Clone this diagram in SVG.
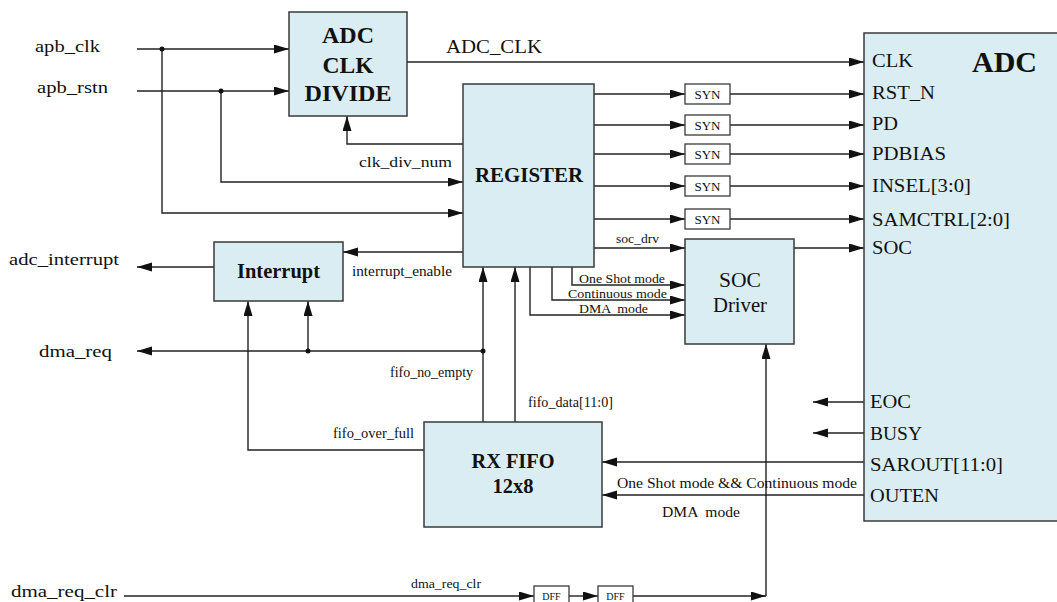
<svg xmlns="http://www.w3.org/2000/svg" width="1057" height="602" viewBox="0 0 1057 602">
<style>
text{font-family:"Liberation Serif","Times New Roman",serif;fill:#111}
.box{fill:#daedf3;stroke:#3a3a3a;stroke-width:1.5}
.sbox{fill:#fff;stroke:#3a3a3a;stroke-width:1.3}
.w{fill:none;stroke:#222;stroke-width:1.4}
.b{font-weight:bold}
.L{font-size:16px}
.P{font-size:18px}
.s{font-size:14px}
.t{font-size:12px}
</style>
<defs>
<marker id="a" markerUnits="userSpaceOnUse" markerWidth="16" markerHeight="10" refX="15" refY="4.5" orient="auto">
<path d="M0,0 L15,4.5 L0,9 z" fill="#111"/>
</marker>
</defs>
<rect width="1057" height="602" fill="#fff"/>

<g id="connectors">
<path class="w" d="M137,49 H289" marker-end="url(#a)"/>
<path class="w" d="M162,49 V213 H463" marker-end="url(#a)"/>
<path class="w" d="M137,91 H289" marker-end="url(#a)"/>
<path class="w" d="M221,91 V182 H463" marker-end="url(#a)"/>
<path class="w" d="M463,144 H347 V116" marker-end="url(#a)"/>
<path class="w" d="M407,62 H864" marker-end="url(#a)"/>
<path class="w" d="M594,94 H685" marker-end="url(#a)"/>
<path class="w" d="M730,94 H864" marker-end="url(#a)"/>
<path class="w" d="M594,125 H685" marker-end="url(#a)"/>
<path class="w" d="M730,125 H864" marker-end="url(#a)"/>
<path class="w" d="M594,154 H685" marker-end="url(#a)"/>
<path class="w" d="M730,154 H864" marker-end="url(#a)"/>
<path class="w" d="M594,186 H685" marker-end="url(#a)"/>
<path class="w" d="M730,186 H864" marker-end="url(#a)"/>
<path class="w" d="M594,219 H685" marker-end="url(#a)"/>
<path class="w" d="M730,219 H864" marker-end="url(#a)"/>
<path class="w" d="M594,248 H685" marker-end="url(#a)"/>
<path class="w" d="M794,248 H864" marker-end="url(#a)"/>
<path class="w" d="M572,267 V285 H685" marker-end="url(#a)"/>
<path class="w" d="M552,267 V300 H685" marker-end="url(#a)"/>
<path class="w" d="M530,267 V315 H685" marker-end="url(#a)"/>
<path class="w" d="M463,252 H343" marker-end="url(#a)"/>
<path class="w" d="M214,267 H137" marker-end="url(#a)"/>
<path class="w" d="M483,351 H137" marker-end="url(#a)"/>
<path class="w" d="M308,351 V301" marker-end="url(#a)"/>
<path class="w" d="M483,422 V267" marker-end="url(#a)"/>
<path class="w" d="M515,422 V267" marker-end="url(#a)"/>
<path class="w" d="M424,450 H248 V301" marker-end="url(#a)"/>
<path class="w" d="M864,462 H602" marker-end="url(#a)"/>
<path class="w" d="M864,495 H602" marker-end="url(#a)"/>
<path class="w" d="M864,402 H813" marker-end="url(#a)"/>
<path class="w" d="M864,433 H813" marker-end="url(#a)"/>
<path class="w" d="M124,596 H534" marker-end="url(#a)"/>
<path class="w" d="M569,596 H598" marker-end="url(#a)"/>
<path class="w" d="M633,596 H766" marker-end="url(#a)"/>
<path class="w" d="M766,596 V344" marker-end="url(#a)"/>
<circle cx="162" cy="49" r="2.5" fill="#111"/>
<circle cx="221" cy="91" r="2.5" fill="#111"/>
<circle cx="308" cy="351" r="2.5" fill="#111"/>
<circle cx="483" cy="351" r="2.5" fill="#111"/>
</g>

<g id="labels">
<text class="L" x="35" y="52" textLength="65" lengthAdjust="spacingAndGlyphs">apb_clk</text>
<text class="L" x="37" y="93" textLength="71" lengthAdjust="spacingAndGlyphs">apb_rstn</text>
<text class="L" x="9" y="265" textLength="110" lengthAdjust="spacingAndGlyphs">adc_interrupt</text>
<text class="L" x="39" y="357" textLength="73" lengthAdjust="spacingAndGlyphs">dma_req</text>
<text class="L" x="11" y="597" textLength="106" lengthAdjust="spacingAndGlyphs">dma_req_clr</text>
<text class="P" x="446" y="53" textLength="96" lengthAdjust="spacingAndGlyphs">ADC_CLK</text>
<text class="s" x="359" y="167" textLength="93" lengthAdjust="spacingAndGlyphs">clk_div_num</text>
<text class="s" x="352" y="276" textLength="100" lengthAdjust="spacingAndGlyphs">interrupt_enable</text>
<text class="s" x="390" y="377" textLength="83" lengthAdjust="spacingAndGlyphs">fifo_no_empty</text>
<text class="s" x="528" y="407" textLength="85" lengthAdjust="spacingAndGlyphs">fifo_data[11:0]</text>
<text class="s" x="333" y="438" textLength="81" lengthAdjust="spacingAndGlyphs">fifo_over_full</text>
<text class="t" x="616" y="243" textLength="43" lengthAdjust="spacingAndGlyphs">soc_drv</text>
<text class="t" x="579" y="283" textLength="86" lengthAdjust="spacingAndGlyphs">One Shot mode</text>
<text class="t" x="568" y="298" textLength="99" lengthAdjust="spacingAndGlyphs">Continuous mode</text>
<text class="t" x="579" y="313" textLength="69" lengthAdjust="spacingAndGlyphs" xml:space="preserve">DMA  mode</text>
<text class="s" x="617" y="488" textLength="240" lengthAdjust="spacingAndGlyphs">One Shot mode &amp;&amp; Continuous mode</text>
<text class="s" x="662" y="517" textLength="78" lengthAdjust="spacingAndGlyphs" xml:space="preserve">DMA  mode</text>
<text class="t" x="411" y="588" textLength="70" lengthAdjust="spacingAndGlyphs">dma_req_clr</text>
</g>

<g id="adc-clk-divide">
<rect class="box" x="289" y="12" width="118" height="104"/>
<text class="b" x="348" y="43" font-size="23" text-anchor="middle" textLength="52" lengthAdjust="spacingAndGlyphs">ADC</text>
<text class="b" x="348" y="73" font-size="23" text-anchor="middle" textLength="51" lengthAdjust="spacingAndGlyphs">CLK</text>
<text class="b" x="348" y="101" font-size="23" text-anchor="middle" textLength="87" lengthAdjust="spacingAndGlyphs">DIVIDE</text>
</g>

<g id="register">
<rect class="box" x="463" y="84" width="131" height="183"/>
<text class="b" x="529" y="182" font-size="20" text-anchor="middle" textLength="108" lengthAdjust="spacingAndGlyphs">REGISTER</text>
</g>

<g id="syn1"><rect class="sbox" x="685" y="84" width="45" height="20"/><text x="707.5" y="98.5" font-size="12" text-anchor="middle" textLength="26" lengthAdjust="spacingAndGlyphs">SYN</text></g>
<g id="syn2"><rect class="sbox" x="685" y="115" width="45" height="20"/><text x="707.5" y="129.5" font-size="12" text-anchor="middle" textLength="26" lengthAdjust="spacingAndGlyphs">SYN</text></g>
<g id="syn3"><rect class="sbox" x="685" y="144" width="45" height="20"/><text x="707.5" y="158.5" font-size="12" text-anchor="middle" textLength="26" lengthAdjust="spacingAndGlyphs">SYN</text></g>
<g id="syn4"><rect class="sbox" x="685" y="176" width="45" height="20"/><text x="707.5" y="190.5" font-size="12" text-anchor="middle" textLength="26" lengthAdjust="spacingAndGlyphs">SYN</text></g>
<g id="syn5"><rect class="sbox" x="685" y="209" width="45" height="20"/><text x="707.5" y="223.5" font-size="12" text-anchor="middle" textLength="26" lengthAdjust="spacingAndGlyphs">SYN</text></g>

<g id="interrupt">
<rect class="box" x="214" y="242" width="129" height="59"/>
<text class="b" x="278.5" y="278" font-size="20" text-anchor="middle" textLength="83" lengthAdjust="spacingAndGlyphs">Interrupt</text>
</g>

<g id="soc-driver">
<rect class="box" x="685" y="239" width="109" height="105"/>
<text x="740" y="287" font-size="20" text-anchor="middle" textLength="42" lengthAdjust="spacingAndGlyphs">SOC</text>
<text x="740" y="312" font-size="20" text-anchor="middle" textLength="54" lengthAdjust="spacingAndGlyphs">Driver</text>
</g>

<g id="rx-fifo">
<rect class="box" x="424" y="422" width="178" height="105"/>
<text class="b" x="513" y="468" font-size="20" text-anchor="middle" textLength="83" lengthAdjust="spacingAndGlyphs">RX FIFO</text>
<text class="b" x="513" y="493" font-size="20" text-anchor="middle" textLength="41" lengthAdjust="spacingAndGlyphs">12x8</text>
</g>

<g id="dff1"><rect class="sbox" x="534" y="586" width="35" height="22"/><text x="551.5" y="600" font-size="10" text-anchor="middle">DFF</text></g>
<g id="dff2"><rect class="sbox" x="598" y="586" width="35" height="22"/><text x="615.5" y="600" font-size="10" text-anchor="middle">DFF</text></g>

<g id="adc">
<rect class="box" x="864" y="33" width="200" height="488"/>
<text class="b" x="972" y="72" font-size="30" textLength="65" lengthAdjust="spacingAndGlyphs">ADC</text>
<text class="P" x="872" y="67" textLength="41" lengthAdjust="spacingAndGlyphs">CLK</text>
<text class="P" x="872" y="99" textLength="63" lengthAdjust="spacingAndGlyphs">RST_N</text>
<text class="P" x="872" y="130" textLength="26" lengthAdjust="spacingAndGlyphs">PD</text>
<text class="P" x="872" y="160" textLength="74" lengthAdjust="spacingAndGlyphs">PDBIAS</text>
<text class="P" x="872" y="192" textLength="99" lengthAdjust="spacingAndGlyphs">INSEL[3:0]</text>
<text class="P" x="872" y="226" textLength="138" lengthAdjust="spacingAndGlyphs">SAMCTRL[2:0]</text>
<text class="P" x="872" y="254" textLength="40" lengthAdjust="spacingAndGlyphs">SOC</text>
<text class="P" x="870" y="408" textLength="41" lengthAdjust="spacingAndGlyphs">EOC</text>
<text class="P" x="870" y="440" textLength="52" lengthAdjust="spacingAndGlyphs">BUSY</text>
<text class="P" x="870" y="471" textLength="133" lengthAdjust="spacingAndGlyphs">SAROUT[11:0]</text>
<text class="P" x="870" y="502" textLength="69" lengthAdjust="spacingAndGlyphs">OUTEN</text>
</g>
</svg>
